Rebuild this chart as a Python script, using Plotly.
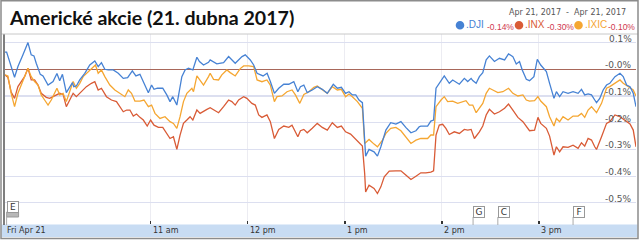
import plotly.graph_objects as go
import pandas as pd

# ---------------- data (minutes after 09:30, % change) ----------------
dji_min = [0, 1, 5.9, 8.0, 11.1, 14.2, 16.2, 17.9, 19.3, 21.8, 23.5, 26.6, 29.7, 32.1, 33.8, 35.5, 37.9, 40.0, 41.7, 42.5,
           44.1, 46.2, 49.3, 52.4, 55.5, 57.6, 59.6, 61.7, 63.8, 66.9, 70.0, 73.1, 75.8, 78.7, 80.9, 83.4, 85.9, 88.6, 90.6, 92.1,
           94.2, 97.5, 100.0, 102.0, 103.7, 106.2, 109.3, 111.3, 113.4, 116.1, 118.6, 120.2, 122.7, 125.8,
           126.8, 130.9, 135.1, 138.2, 142.3, 146.5, 148.5, 151.6, 153.7, 155.8, 159.5, 162.0, 164.0, 166.5, 169.2, 172.3,
           175.4, 178.5, 181.0, 182.6, 184.7, 186.8, 189.9, 193.0, 196.1, 199.2, 202.9, 205.4, 207.9, 210.5, 212.6, 214.7,
           216.8, 218.8, 220.9, 222.3, 222.9, 225.0, 228.1, 230.2, 232.3, 235.4, 238.4, 241.6, 244.7, 247.7, 250.9, 254.0, 256.0,
           257.0, 261.2, 263.2, 264.9, 266.4, 268.4, 271.5, 274.6, 276.7, 280.8, 283.9, 286.0, 288.1, 289.1, 291.2, 293.2,
           295.3, 297.4, 299.4, 302.5, 305.6, 308.8, 311.2, 313.9, 316.0, 318.0, 319.7, 322.2, 324.2, 326.9, 329.0, 331.1,
           333.1, 334.6, 336.6, 339.3, 340.8, 342.8, 344.9, 348.0, 351.1, 354.2, 356.3, 358.3, 360.4, 362.5, 364.5, 365.6,
           367.6, 369.7, 371.8, 373.8, 377.0, 380.1, 382.1, 384.2, 386.3, 388.3, 390]
dji_pct = [0.064, 0.064, -0.030, 0.010, 0.054, 0.100, 0.054, 0.050, 0.0225, -0.019, -0.025, -0.059, -0.046, -0.016, -0.043, -0.019, -0.0875, -0.065, -0.050, -0.065,
           -0.0625, -0.040, -0.015, 0.016, 0.031, 0.010, 0.025, 0.000, -0.0025, -0.0025, -0.015, -0.034, -0.031, -0.006, -0.025, -0.019, -0.050, -0.0875, -0.059, -0.075,
           -0.071, -0.071, -0.096, -0.121, -0.1025, -0.134, -0.0275, -0.0025, 0.004, -0.0025, 0.045, 0.029, 0.016, 0.026,
           0.035, 0.020, 0.025, 0.0475, 0.0225, 0.0475, 0.054, 0.035, 0.016, -0.015, -0.025, -0.015, -0.046, -0.090, -0.071, -0.056,
           -0.056, -0.046, -0.084, -0.065, -0.059, -0.0875, -0.0775, -0.065, -0.075, -0.090, -0.056, -0.071, -0.0675, -0.090, -0.084, -0.096,
           -0.096, -0.115, -0.125, -0.240, -0.325, -0.300, -0.309, -0.325, -0.290, -0.2275, -0.200, -0.205, -0.196, -0.2175, -0.2375, -0.230, -0.215,
           -0.2125, -0.2125, -0.194, -0.190, -0.071, -0.0525, -0.025, -0.0525, -0.040, -0.056, -0.034, -0.046, -0.034, -0.0425, -0.0525, -0.0275,
           -0.0125, 0.035, 0.050, 0.029, 0.041, 0.035, 0.0575, 0.0475, 0.020, 0.029, -0.0025, -0.0375, -0.0425, -0.0275, 0.0375, 0.016,
           0.000, -0.009, -0.0525, -0.109, -0.084, -0.1025, -0.084, -0.090, -0.084, -0.090, -0.075, -0.096, -0.0925, -0.096, -0.115, -0.125,
           -0.109, -0.0775, -0.059, -0.0525, -0.0275, -0.015, -0.0275, -0.059, -0.065, -0.090, -0.140]

inx_min = [0, 1.8, 3.8, 5.9, 8.0, 10.0, 12.1, 14.2, 16.2, 18.3, 20.4, 22.4, 25.5, 27.6, 29.7, 31.7, 33.8, 35.9, 37.9, 40.0,
           42.1, 44.1, 47.2, 50.3, 53.4, 55.5, 57.6, 59.6, 62.7, 65.8, 68.9, 71.0, 73.1, 75.2, 77.2, 79.3, 81.3, 83.4, 85.5, 87.9,
           90.0, 92.1, 94.8, 97.5, 99.5, 102.0, 104.1, 106.2, 108.2, 110.3, 112.4, 114.4, 116.1, 118.6, 120.6, 122.7, 124.8,
           126.8, 128.9, 132.0, 135.1, 138.2, 140.2, 142.3, 144.4, 147.5, 149.5, 152.6, 154.7, 156.8, 158.8, 161.9, 164.0, 166.5,
           169.2, 172.3, 175.4, 177.4, 181.0, 182.6, 184.7, 186.8, 189.9, 193.0, 196.1, 199.2, 202.3, 205.4, 207.9, 210.5, 213.6,
           215.7, 218.2, 220.9, 222.3, 222.9, 225.0, 228.1, 230.2, 232.3, 234.4, 237.5, 241.6, 244.7, 247.7, 250.9, 254.0, 257.0,
           260.1, 263.2, 264.9, 266.4, 268.4, 270.5, 272.5, 274.6, 277.7, 280.8, 283.9, 286.0, 288.1, 290.1, 293.2, 295.3, 297.4,
           299.4, 302.5, 305.6, 308.8, 311.2, 313.9, 317.0, 320.1, 322.2, 324.2, 327.3, 329.4, 331.1, 333.1, 334.6, 336.6, 339.3,
           340.8, 342.8, 344.9, 348.0, 351.1, 354.2, 356.3, 358.3, 360.4, 362.5, 364.5, 365.6, 368.7, 371.8, 373.8, 377.0, 380.1,
           383.1, 386.3, 388.3, 390]
inx_pct = [-0.021, -0.030, -0.085, -0.109, -0.065, -0.046, -0.0275, 0.004, -0.040, -0.040, -0.059, -0.090, -0.105, -0.109, -0.1025, -0.096, -0.090, -0.094, -0.140, -0.115,
           -0.090, -0.1025, -0.084, -0.065, -0.0525, -0.0465, -0.0775, -0.071, -0.1025, -0.115, -0.121, -0.140, -0.159, -0.1525, -0.1525, -0.175, -0.1675, -0.180, -0.190, -0.2125,
           -0.190, -0.209, -0.2175, -0.2175, -0.234, -0.259, -0.2525, -0.300, -0.2465, -0.2025, -0.190, -0.1775, -0.190, -0.1525, -0.165, -0.159, -0.150,
           -0.144, -0.1525, -0.1625, -0.140, -0.115, -0.121, -0.134, -0.115, -0.1025, -0.109, -0.1275, -0.134, -0.171, -0.180, -0.171, -0.196, -0.259,
           -0.225, -0.2125, -0.2175, -0.209, -0.2525, -0.230, -0.225, -0.2375, -0.221, -0.2025, -0.2175, -0.2275, -0.200, -0.2175, -0.2125, -0.234, -0.2425,
           -0.255, -0.2715, -0.2875, -0.390, -0.459, -0.434, -0.446, -0.465, -0.440, -0.4025, -0.381, -0.380, -0.380, -0.396, -0.4125, -0.400, -0.3875,
           -0.3875, -0.385, -0.380, -0.246, -0.209, -0.206, -0.221, -0.244, -0.234, -0.240, -0.225, -0.2275, -0.225, -0.259, -0.234, -0.2125, -0.171,
           -0.150, -0.1675, -0.159, -0.146, -0.130, -0.1525, -0.180, -0.196, -0.215, -0.230, -0.2275, -0.180, -0.2025, -0.2125, -0.221, -0.250, -0.321,
           -0.290, -0.309, -0.290, -0.2925, -0.284, -0.296, -0.275, -0.2875, -0.259, -0.265, -0.290, -0.300, -0.2525, -0.2025, -0.196, -0.171, -0.1775,
           -0.190, -0.205, -0.2275, -0.290]

ixic_min = [0, 1.8, 3.8, 5.9, 8.0, 10.0, 12.1, 14.2, 16.2, 18.3, 20.4, 22.4, 24.5, 26.6, 28.6, 30.7, 32.1, 33.8, 35.9, 37.9,
            40.0, 42.1, 44.1, 46.2, 48.3, 51.4, 53.4, 55.9, 57.6, 59.6, 61.7, 64.8, 67.9, 71.0, 74.1, 76.2, 78.2, 80.3, 83.4, 85.9,
            88.6, 90.6, 92.7, 95.8, 98.9, 102.0, 104.1, 106.2, 108.2, 110.3, 112.4, 115.5, 116.5, 118.6, 120.2, 122.7, 125.8,
            126.8, 128.9, 132.0, 134.0, 137.1, 139.2, 142.3, 145.4, 147.5, 150.6, 153.7, 155.8, 158.8, 161.9, 164.0, 166.5, 168.1,
            171.2, 174.3, 177.4, 179.5, 182.2, 184.7, 187.8, 190.9, 193.0, 196.1, 199.2, 202.3, 205.4, 207.9, 210.5, 212.6, 214.7,
            217.8, 220.9, 222.3, 225.0, 228.1, 230.2, 233.3, 235.4, 238.4, 241.6, 244.7, 247.7, 250.9, 254.0, 257.0,
            261.2, 263.2, 264.9, 266.4, 269.5, 271.5, 273.6, 276.7, 279.8, 282.9, 284.9, 287.0, 289.1, 291.2, 293.2, 295.3, 297.4,
            299.4, 301.5, 304.6, 307.7, 311.2, 313.9, 317.0, 320.1, 322.2, 324.2, 327.3, 329.4, 331.1, 334.6, 336.6, 339.3,
            340.8, 342.8, 344.9, 348.0, 351.1, 354.2, 356.3, 358.3, 360.4, 362.5, 364.5, 365.6, 368.7, 371.8, 373.8, 377.0, 380.1,
            382.1, 385.2, 388.3, 390]
ixic_pct = [-0.021, -0.025, -0.090, -0.140, -0.090, -0.059, -0.021, 0.004, -0.0275, -0.046, -0.059, -0.096, -0.115, -0.134, -0.115, -0.090, -0.071, -0.096, -0.090, -0.121,
            -0.084, -0.046, -0.071, -0.0525, -0.0275, -0.009, 0.004, 0.016, -0.015, -0.0025, -0.0275, -0.059, -0.0775, -0.090, -0.1025, -0.0775, -0.090, -0.119, -0.119, -0.115,
            -0.140, -0.134, -0.165, -0.184, -0.1775, -0.196, -0.2025, -0.221, -0.1775, -0.121, -0.090, -0.071, -0.084, -0.025, -0.040, -0.059, -0.0275,
            -0.015, -0.0375, -0.040, -0.021, -0.0025, -0.0125, -0.025, 0.0025, 0.0125, 0.0125, 0.010, -0.040, -0.0465, -0.040, -0.059, -0.121, -0.1025,
            -0.100, -0.084, -0.0775, -0.096, -0.1275, -0.094, -0.084, -0.0675, -0.0625, -0.0775, -0.090, -0.065, -0.0775, -0.075, -0.1025, -0.0925, -0.1025,
            -0.121, -0.146, -0.2775, -0.2625, -0.280, -0.290, -0.265, -0.240, -0.221, -0.2175, -0.230, -0.2525, -0.2775, -0.265, -0.259,
            -0.259, -0.246, -0.246, -0.140, -0.115, -0.1025, -0.121, -0.119, -0.1275, -0.121, -0.1175, -0.134, -0.134, -0.1625, -0.146, -0.1275, -0.090,
            -0.071, -0.0775, -0.0875, -0.084, -0.071, -0.090, -0.100, -0.096, -0.115, -0.119, -0.1175, -0.1025, -0.119, -0.140, -0.1775, -0.2125,
            -0.184, -0.196, -0.1775, -0.190, -0.175, -0.175, -0.165, -0.180, -0.1525, -0.140, -0.1525, -0.1625, -0.1275, -0.071, -0.065, -0.0525, -0.040,
            -0.0525, -0.065, -0.0775, -0.100]

series_names = [".DJI", ".INX", ".IXIC"]
series_change = ["-0.14%", "-0.30%", "-0.10%"]
series_colors = ["#4682d4", "#d95b36", "#f5a631"]

tick_times = ["09:30", "11:00", "12:00", "13:00", "14:00", "15:00"]
tick_labels = ["Fri Apr 21", "11 am", "12 pm", "1 pm", "2 pm", "3 pm"]
y_tick_vals = [0.1, 0.0, -0.1, -0.2, -0.3, -0.4, -0.5]
y_tick_labels = ["0.1%", "-0.0%", "-0.1%", "-0.2%", "-0.3%", "-0.4%", "-0.5%"]

flag_letters = ["E", "G", "C", "F"]
flag_minutes = [1, 289.3, 304.6, 351.1]

title_text = "Americké akcie (21. dubna 2017)"
date_range_text = "Apr 21, 2017  -  Apr 21, 2017"

DAY = "2017-04-21"
base = pd.Timestamp(DAY + " 09:30")


def to_time(mins):
    return base + pd.to_timedelta(pd.Series(mins, dtype=float), unit="min")


# ---------------- geometry helpers (pixels -> paper) ----------------
W, H = 640, 240
ML, MR, MT, MB = 5, 4, 34, 16
PW, PH = W - ML - MR, H - MT - MB


def px(x):
    return (x - ML) / PW


def py(y):
    return (H - MB - y) / PH


fig = go.Figure()
for name, mins, vals, col in [(series_names[1], inx_min, inx_pct, series_colors[1]),
                              (series_names[2], ixic_min, ixic_pct, series_colors[2]),
                              (series_names[0], dji_min, dji_pct, series_colors[0])]:
    fig.add_trace(go.Scatter(x=to_time(mins), y=vals, mode="lines", name=name,
                             line=dict(color=col, width=1.3), hoverinfo="skip"))

shapes = []
annotations = []

# axis band at bottom
shapes.append(dict(type="rect", xref="paper", yref="paper", x0=px(1.5), x1=px(637.5), y0=py(237), y1=py(224.5),
                   fillcolor="#c8dcf3", line=dict(width=0), layer="below"))
# left axis line and top line
shapes.append(dict(type="line", xref="paper", yref="paper", x0=px(4), x1=px(4), y0=py(225), y1=py(34),
                   line=dict(color="#555", width=1.5)))
shapes.append(dict(type="line", xref="paper", yref="paper", x0=px(1), x1=px(638), y0=py(34), y1=py(34),
                   line=dict(color="#c8c8c8", width=1)))
# outer frame
shapes.append(dict(type="rect", xref="paper", yref="paper", x0=px(1), x1=px(638), y0=py(238.5), y1=py(0.8),
                   line=dict(color="#8c8c8c", width=1.5), fillcolor="rgba(0,0,0,0)"))

# x tick labels inside band
for t, lab in zip(tick_times, tick_labels):
    annotations.append(dict(x=f"{DAY} {t}", xref="x", y=py(230.5), yref="paper", text=lab, showarrow=False,
                            xanchor="left", yanchor="middle", xshift=0,
                            font=dict(family="DejaVu Sans", size=8, color="#333")))

# y tick labels above gridlines, right side
for v, lab in zip(y_tick_vals, y_tick_labels):
    annotations.append(dict(x=px(634), xref="paper", y=v, yref="y", text=lab, showarrow=False,
                            xanchor="right", yanchor="bottom", yshift=-3,
                            font=dict(family="DejaVu Sans", size=9, color="#555")))

# event flags
for i, (letter, m) in enumerate(zip(flag_letters, flag_minutes)):
    ft = base + pd.Timedelta(minutes=m)
    top = 201 if i == 0 else 206
    if i == 0:
        shapes.append(dict(type="rect", xref="x", yref="paper", x0=ft, x1=ft + pd.Timedelta(minutes=7.4),
                           y0=py(217), y1=py(212), fillcolor="#b8b8b8", line=dict(color="#999", width=1)))
    shapes.append(dict(type="line", xref="x", yref="paper", x0=ft, x1=ft, y0=py(225), y1=py(top + 11),
                       line=dict(color="#aaa", width=1)))
    annotations.append(dict(x=ft, xref="x", y=py(top), yref="paper", text=letter, showarrow=False,
                            xanchor="left", yanchor="top", bgcolor="white", bordercolor="#999", borderwidth=1,
                            borderpad=0, width=10, height=10,
                            font=dict(family="DejaVu Sans", size=9, color="#333")))

# title
annotations.append(dict(x=px(7), xref="paper", y=py(18), yref="paper", text=title_text, showarrow=False,
                        xanchor="left", yanchor="middle",
                        font=dict(family="Lato", size=19.6, color="#111", weight="bold")))

# legend header
annotations.append(dict(x=px(628), xref="paper", y=py(12.5), yref="paper", text=date_range_text, showarrow=False,
                        xanchor="right", yanchor="middle", font=dict(family="DejaVu Sans", size=8, color="#555")))

# legend row
leg_circle_x = [460, 519, 578.5]
leg_name_x = [464.5, 523, 582.5]
leg_chg_x = [485, 544.5, 605.5]
for name, chg, col, cx, nx, chx in zip(series_names, series_change, series_colors, leg_circle_x, leg_name_x, leg_chg_x):
    shapes.append(dict(type="circle", xref="paper", yref="paper", x0=px(cx - 4.3), x1=px(cx + 4.3),
                       y0=py(25.3 + 4.3), y1=py(25.3 - 4.3), fillcolor=col, line=dict(width=0)))
    annotations.append(dict(x=px(nx), xref="paper", y=py(24.8), yref="paper", text=name, showarrow=False,
                            xanchor="left", yanchor="middle",
                            font=dict(family="Liberation Sans", size=10, color=col)))
    annotations.append(dict(x=px(chx), xref="paper", y=py(26.8), yref="paper", text=chg, showarrow=False,
                            xanchor="left", yanchor="middle",
                            font=dict(family="Liberation Sans", size=8.5, color="#d0384f")))

fig.update_layout(
    width=W, height=H,
    margin=dict(l=ML, r=MR, t=MT, b=MB, pad=0),
    paper_bgcolor="white", plot_bgcolor="white",
    showlegend=False,
    hovermode=False,
    xaxis=dict(type="date", range=[f"{DAY} 09:30", f"{DAY} 16:00"],
               tickvals=[f"{DAY} {t}" for t in tick_times], showticklabels=False,
               ticks="inside", ticklen=3, tickwidth=1.5, tickcolor="#333",
               showgrid=True, gridcolor="#ececf2", gridwidth=1, zeroline=False, showline=False, fixedrange=True),
    yaxis=dict(range=[-0.579, 0.132], tickvals=y_tick_vals, showticklabels=False,
               showgrid=True, gridcolor="#dcdff0", gridwidth=1.2,
               zeroline=True, zerolinecolor="#a8675a", zerolinewidth=1.3,
               showline=False, fixedrange=True),
    shapes=shapes,
    annotations=annotations,
)

fig.write_html("out.html", config={"displayModeBar": False, "staticPlot": True})
